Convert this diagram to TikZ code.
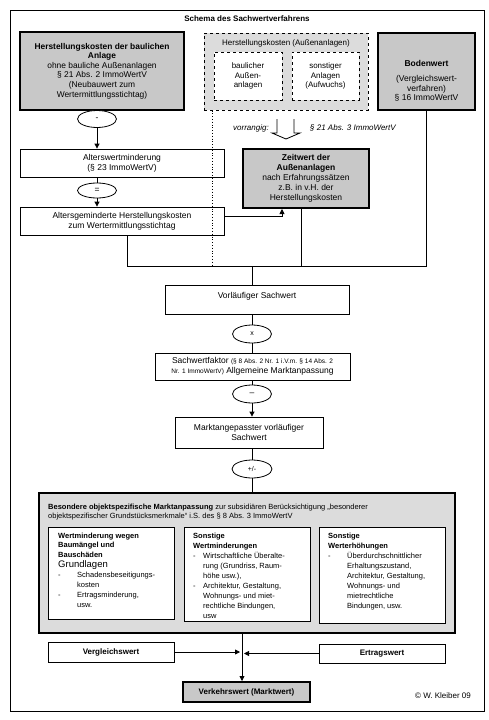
\documentclass[tikz,border=0pt]{standalone}
\usepackage{fontspec}
\setmainfont{Liberation Sans}
\usetikzlibrary{shapes.geometric,arrows.meta}
\definecolor{boxgray}{HTML}{C8C8C8}
\definecolor{lightgray2}{HTML}{DCDCDC}
\newcommand{\fsm}{\fontsize{8.5}{10}\selectfont}
\newcommand{\fss}{\fontsize{8}{9.5}\selectfont}
\newcommand{\fst}{\fontsize{7.5}{10}\selectfont}
\begin{document}
\begin{tikzpicture}[x=1pt,y=-1pt,
  every node/.style={font=\fsm, inner sep=0pt},
  box/.style={draw, line width=0.8pt, fill=white, align=center},
  darkbox/.style={draw, line width=2pt, fill=boxgray, align=center},
  dbox/.style={draw, dashed, line width=0.9pt, align=center},
  oval/.style={draw, ellipse, line width=0.8pt, fill=white, minimum width=39pt, minimum height=17pt},
  conn/.style={line width=0.8pt},
  arr/.style={conn, -{Triangle[length=5pt,width=5pt]}},
  txt/.style={align=left, anchor=north west, font=\fst}]
\useasboundingbox (0,0) rectangle (488,720);
\fill[white] (0,0) rectangle (488,720);
\draw[line width=0.9pt] (10,10) rectangle (484,711);
\node[font=\fss\bfseries] (title) at (247,19) {Schema des Sachwertverfahrens};
% top row
\node[darkbox, minimum width=164pt, minimum height=78pt, font=\fontsize{8.4}{9.6}\selectfont] (hk) at (102,71)
  {\textbf{Herstellungskosten der baulichen}\\\textbf{Anlage}\\ohne bauliche Außenanlagen\\§ 21 Abs. 2 ImmoWertV\\(Neubauwert zum\\Wertermittlungsstichtag)};
\node[dbox, line width=1pt, fill=lightgray2, minimum width=164pt, minimum height=77pt] (ha) at (286,71.5) {};
\node[font=\fss] (hat) at (286,43) {Herstellungskosten (Außenanlagen)};
\node[dbox, fill=white, minimum width=68pt, minimum height=48pt, font=\fss] (ba) at (248,76) {baulicher\\Außen-\\anlagen};
\node[dbox, fill=white, minimum width=67pt, minimum height=48pt, font=\fss] (sa) at (325.5,76) {sonstiger\\Anlagen\\(Aufwuchs)};
\node[darkbox, minimum width=97pt, minimum height=77pt] (bw) at (426.5,71.5) {};
\node[align=center, font=\fontsize{8.5}{9.6}\selectfont] (bwt) at (426.5,81) {\textbf{Bodenwert}\\[5pt](Vergleichswert-\\verfahren)\\§ 16 ImmoWertV};
% left column
\node[oval] (m1) at (97,119) {-};
\node[box, minimum width=204pt, minimum height=28pt] (awm) at (122,163) {Alterswertminderung\\(§ 23 ImmoWertV)};
\node[oval, minimum height=15pt] (m2) at (97,190.5) {=};
\node[box, minimum width=204pt, minimum height=28pt] (agk) at (122,221) {Altersgeminderte Herstellungskosten\\zum Wertermittlungsstichtag};
% Aussenanlagen
\draw[line width=0.8pt, fill=white] (277,119) -- (277,133) -- (272,133) -- (286,139) -- (300,133) -- (294,133) -- (294,119);
\node[font=\fss\itshape] (vr) at (251,128) {vorrangig:};
\node[font=\fss\itshape, anchor=west] (vp) at (310,128) {§ 21 Abs. 3 ImmoWertV};
\node[darkbox, minimum width=126pt, minimum height=59pt] (zw) at (306,178.5)
  {\textbf{Zeitwert der}\\\textbf{Außenanlagen}\\nach Erfahrungssätzen\\z.B. in v.H. der\\Herstellungskosten};
\draw[dotted, line width=0.8pt] ([xshift=9pt]ha.south west) -- ++(0,155);
% middle column
\node[box, minimum width=184pt, minimum height=29pt] (vs) at (257,299.5) {};
\node (vst) at (257,296) {Vorläufiger Sachwert};
\node[oval, minimum height=18pt, font=\fontsize{7}{8}\selectfont] (mx) at (252,334) {x};
\node[box, minimum width=195pt, minimum height=27pt] (sf) at (252.5,366.5)
  {Sachwertfaktor {\fontsize{6.5}{10}\selectfont(§ 8 Abs. 2 Nr. 1 i.V.m. § 14 Abs. 2}\\{\fontsize{6.5}{10}\selectfont Nr. 1 ImmoWertV)} Allgemeine Marktanpassung};
\node[oval, minimum height=18pt] (mm) at (252,394) {--};
\node[box, minimum width=148pt, minimum height=31pt] (ma) at (249,432.5) {Marktangepasster vorläufiger\\Sachwert};
\node[oval, minimum height=18pt, minimum width=40pt, font=\fontsize{7}{8}\selectfont] (mp) at (252,469) {+/-};
% big box
\node[draw, line width=1.2pt, fill=lightgray2, minimum width=416pt, minimum height=140pt] (big) at (247,563) {};
\node[txt, font=\fontsize{7.5}{9}\selectfont] (bht) at (48,503.5)
  {\textbf{Besondere objektspezifische Marktanpassung} zur subsidiären Berücksichtigung „besonderer\\objektspezifischer Grundstücksmerkmale“ i.S. des § 8 Abs. 3 ImmoWertV};
\node[box, minimum width=126pt, minimum height=92pt] (b1) at (111,573) {};
\node[box, minimum width=126pt, minimum height=94pt] (b2) at (247,574) {};
\node[box, minimum width=126pt, minimum height=96pt] (b3) at (382,575) {};
\node[txt] (b1t) at (58,532.5)
  {\textbf{Wertminderung wegen}\\[-0.5pt]\textbf{Baumängel und}\\[-0.5pt]\textbf{Bauschäden}\\{\fontsize{9.5}{11}\selectfont Grundlagen}\\
   \makebox[19pt][l]{-}Schadensbeseitigungs-\\\hspace*{19pt}kosten\\\makebox[19pt][l]{-}Ertragsminderung,\\\hspace*{19pt}usw.};
\begin{scope}
\clip (b2.south west) rectangle (b2.north east);
\node[txt] (b2t) at (193,532.5)
  {\textbf{Sonstige}\\\textbf{Wertminderungen}\\\makebox[10pt][l]{-}Wirtschaftliche Überalte-\\\hspace*{10pt}rung (Grundriss, Raum-\\\hspace*{10pt}höhe usw.),\\
   \makebox[10pt][l]{-}Architektur, Gestaltung,\\\hspace*{10pt}Wohnungs- und miet-\\\hspace*{10pt}rechtliche Bindungen,\\\hspace*{10pt}usw};
\end{scope}
\node[txt] (b3t) at (328,532.5)
  {\textbf{Sonstige}\\\textbf{Werterhöhungen}\\\makebox[19pt][l]{-}Überdurchschnittlicher\\\hspace*{19pt}Erhaltungszustand,\\\hspace*{19pt}Architektur, Gestaltung,\\
   \hspace*{19pt}Wohnungs- und\\\hspace*{19pt}mietrechtliche\\\hspace*{19pt}Bindungen, usw.};
% bottom
\node[box, minimum width=126pt, minimum height=20pt, font=\fss\bfseries] (vg) at (111,652) {Vergleichswert};
\node[box, minimum width=126pt, minimum height=19pt, font=\fss\bfseries] (er) at (382,653.5) {Ertragswert};
\node[darkbox, minimum width=127pt, minimum height=20pt, font=\fss\bfseries] (vk) at (246.5,692) {Verkehrswert (Marktwert)};
\node[font=\fss] (copy) at (443,696) {© W. Kleiber 09};
% connectors
\draw[arr] (m1.south) -- (m1.south |- awm.north);
\draw[conn] (awm.south -| m2) -- (m2.north);
\draw[arr] (m2.south) -- (m2.south |- agk.north);
\draw[arr] ([yshift=5pt]agk.east) -| ([xshift=-24pt]zw.south);
\coordinate (junc) at (252,266);
\draw[conn] ([xshift=5pt]agk.south) |- (junc);
\draw[conn] (junc) -| (bw.south);
\draw[conn] ([xshift=-5pt]zw.south) -- ([xshift=-5pt]zw.south |- junc);
\draw[conn] (junc) -- (junc |- vs.north);
\draw[conn] (vs.south -| mx) -- (mx.north);
\draw[conn] (mx.south) -- (mx.south |- sf.north);
\draw[conn] (sf.south -| mm) -- (mm.north);
\draw[arr] (mm.south) -- (mm.south |- ma.north);
\draw[conn] (ma.south -| mp) -- (mp.north);
\draw[conn] (mp.south) -- (mp.south |- big.north);
\coordinate (mid) at ([xshift=-5pt]big.south);
\coordinate (midl) at ([xshift=-2pt]mid);
\coordinate (midr) at ([xshift=2pt]mid);
\draw[arr] (mid) -- (mid |- vk.north);
\draw[arr] (vg.east) -- (midl |- vg.east);
\draw[arr] (er.west) -- (midr |- er.west);
\end{tikzpicture}
\end{document}
